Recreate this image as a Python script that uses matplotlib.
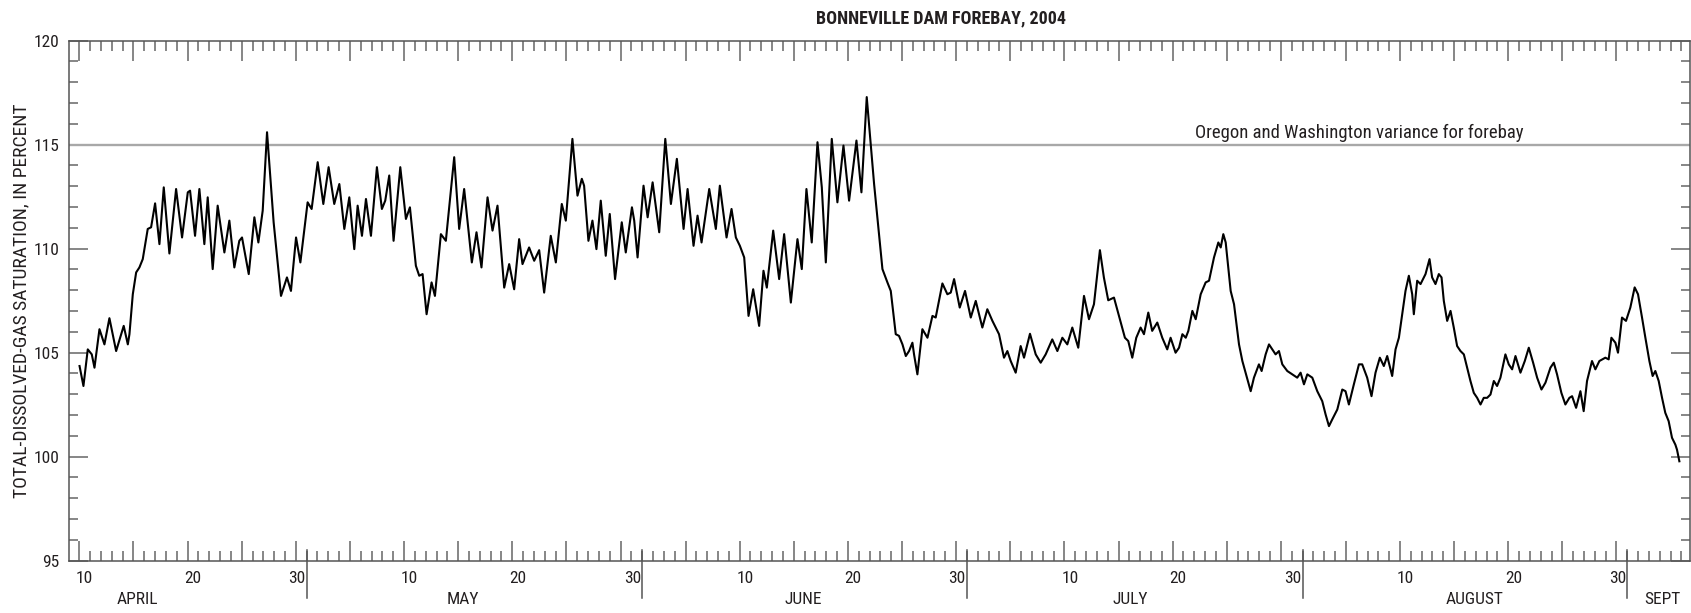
import matplotlib
matplotlib.use("Agg")
import matplotlib.pyplot as plt
import matplotlib.transforms as mtransforms
from matplotlib.lines import Line2D
from matplotlib import font_manager

# ---------------- data (x = days since 1 April 2004, 00:00) ----------------
day = [
    9.02, 9.38, 9.78, 10.15, 10.4, 10.86, 11.32, 11.78, 12.4, 13.1, 13.48, 13.63, 13.94,
    14.25, 14.55, 14.86, 15.32, 15.63, 16.0, 16.4, 16.8, 17.32, 17.94, 18.49, 19.02, 19.23,
    19.69, 20.09, 20.55, 20.86, 21.32, 21.78, 22.4, 22.86, 23.32, 23.78, 24.03, 24.65, 25.17,
    25.54, 25.94, 26.34, 26.95, 27.63, 28.18, 28.55, 29.02, 29.42, 30.09, 30.46, 31.02, 31.54,
    32.03, 32.55, 33.02, 33.48, 33.94,
    34.4, 34.71, 35.11, 35.48, 35.94, 36.49, 36.95, 37.26, 37.63, 38.03, 38.65, 39.17, 39.54,
    40.09, 40.4, 40.71, 41.08, 41.54, 41.85, 42.4, 42.86, 43.63, 44.09, 44.55, 45.26, 45.69,
    46.15, 46.71, 47.17, 47.63, 48.25, 48.71, 49.17, 49.63, 49.94, 50.55, 51.02, 51.48, 51.94,
    52.55, 53.02, 53.57, 53.94, 54.55, 55.02, 55.42, 55.63, 56.03, 56.4, 56.77, 57.17, 57.63,
    58.0, 58.49, 59.11, 59.48,
    60.05, 60.26, 60.57, 61.12, 61.5, 61.96, 62.57, 63.13, 63.65, 64.2, 64.82, 65.19, 65.74,
    66.11, 66.48, 67.19, 67.8, 68.17, 68.79, 69.25, 69.65, 70.02, 70.42, 70.82, 71.25, 71.8,
    72.2, 72.51, 73.1, 73.65, 74.11, 74.73, 75.34, 75.74, 76.17, 76.66, 77.19, 77.59, 77.96,
    78.51, 79.03, 79.59, 80.11, 80.79, 81.25, 81.74, 82.42, 83.19, 83.65, 83.96, 84.42, 84.72,
    85.04, 85.35, 85.65, 85.96, 86.11, 86.42, 86.88, 87.35, 87.81, 88.11, 88.73, 89.19, 89.5,
    89.81, 90.33, 90.82, 91.35, 91.81, 92.42, 92.88, 93.35, 93.96, 94.42, 94.73, 95.04, 95.5,
    95.96, 96.27, 96.82, 97.35, 97.81, 98.27, 98.88, 99.35, 99.81, 100.27, 100.73, 101.28,
    101.81, 102.27, 102.73, 103.28, 103.65, 104.05, 104.58, 105.04, 105.59, 105.9, 106.27,
    106.64, 107.04, 107.35, 107.75, 108.11, 108.58, 109.04, 109.5, 109.81, 110.27,
    110.59, 110.9, 111.21, 111.45, 111.82, 112.13, 112.59, 113.05, 113.36, 113.82, 114.22,
    114.44, 114.68, 114.9, 115.36, 115.67, 116.13, 116.44, 116.74, 117.21, 117.51, 117.97,
    118.22, 118.59, 118.9, 119.21, 119.51, 119.82, 120.13, 120.59, 121.05, 121.51, 121.82,
    122.13, 122.44, 122.9, 123.36, 123.82, 124.13, 124.44, 124.74, 125.21, 125.67, 125.97,
    126.28, 126.74, 127.21, 127.51, 127.97, 128.37, 128.74, 129.14, 129.51, 129.82, 130.28,
    130.59, 130.9, 131.21, 131.51, 131.82, 132.13, 132.28, 132.59, 132.9, 133.36, 133.73,
    133.97, 134.28,
    134.59, 134.84, 135.05, 135.36, 135.67, 135.97, 136.28, 136.59, 136.9, 137.21, 137.51,
    137.82, 138.13, 138.44, 138.74, 139.05, 139.36, 139.67, 139.97, 140.28, 140.74, 141.05,
    141.36, 141.67, 142.13, 142.53, 142.9, 143.3, 143.67, 144.07, 144.44, 144.9, 145.21,
    145.51, 145.91, 146.28, 146.65, 146.9, 147.27, 147.67, 147.97, 148.28, 148.74, 149.05,
    149.42, 149.97, 150.28, 150.53, 150.9, 151.14, 151.51, 151.88, 152.28, 152.68, 152.99,
    153.36, 153.67, 154.04, 154.34, 154.59, 154.9, 155.21, 155.51, 155.82, 156.13, 156.44,
    156.59, 156.81,
]

tdg = [
    104.35, 103.39, 105.15, 104.91, 104.27, 106.12, 105.39, 106.65, 105.07, 106.28, 105.39, 105.88, 107.8,
    108.85, 109.09, 109.49, 110.94, 111.02, 112.17, 110.21, 112.94, 109.76, 112.86, 110.53, 112.7, 112.78,
    110.61, 112.86, 110.21, 112.46, 109.01, 112.06, 109.81, 111.34, 109.09, 110.37, 110.53, 108.77, 111.5,
    110.29, 111.82, 115.59, 111.26, 107.72, 108.61, 107.96, 110.53, 109.33, 112.22, 111.9, 114.15, 112.14,
    113.91, 112.14, 113.1, 110.94, 112.46,
    109.97, 112.06, 110.61, 112.38, 110.61, 113.91, 111.9, 112.3, 113.51, 110.37, 113.91, 111.42, 111.98,
    109.17, 108.69, 108.77, 106.84, 108.37, 107.72, 110.69, 110.37, 114.39, 110.94, 112.86, 109.33, 110.78,
    109.09, 112.46, 110.86, 112.06, 108.12, 109.25, 108.04, 110.45, 109.25, 110.05, 109.41, 109.92, 107.88,
    110.61, 109.33, 112.14, 111.34, 115.27, 112.54, 113.35, 113.02, 110.37, 111.34, 109.97, 112.3, 109.65,
    111.66, 108.53, 111.26, 109.81,
    111.98, 111.34, 109.57, 113.02, 111.5, 113.18, 110.78, 115.27, 112.14, 114.31, 110.94, 112.86, 110.13,
    111.58, 110.29, 112.86, 110.94, 113.02, 110.53, 111.9, 110.53, 110.13, 109.57, 106.76, 108.04, 106.28,
    108.93, 108.12, 110.86, 108.53, 110.69, 107.4, 110.45, 109.01, 112.86, 110.29, 115.11, 112.94, 109.33,
    115.27, 112.22, 114.95, 112.3, 115.19, 112.7, 117.28, 113.1, 109.01, 108.37, 107.96, 105.88, 105.8,
    105.39, 104.83, 105.07, 105.47, 104.91, 103.95, 106.12, 105.71, 106.76, 106.68, 108.32, 107.8, 107.88,
    108.53, 107.16, 107.96, 106.68, 107.48, 106.2, 107.08, 106.52, 105.88, 104.75, 105.07, 104.59, 104.03,
    105.31, 104.75, 105.9, 104.91, 104.51, 104.91, 105.63, 105.07, 105.71, 105.39, 106.2, 105.23,
    107.72, 106.6, 107.32, 109.92, 108.6, 107.51, 107.64, 106.76, 105.71, 105.55, 104.75,
    105.71, 106.2, 105.88, 106.92, 106.04, 106.44, 105.71, 105.15, 105.71, 104.99,
    105.23, 105.88, 105.71, 106.04, 107.0, 106.6, 107.8, 108.37, 108.45, 109.57, 110.29,
    110.05, 110.69, 110.29, 107.96, 107.32, 105.39, 104.59, 104.03, 103.14, 103.79, 104.43,
    104.11, 104.91, 105.39, 105.15, 104.91, 105.07, 104.43, 104.11, 103.95, 103.79, 104.03,
    103.47, 103.95, 103.79, 103.14, 102.66, 102.02, 101.46, 101.78, 102.26, 103.22, 103.14,
    102.5, 103.47, 104.43, 104.43, 103.79, 102.9, 104.03, 104.75, 104.35, 104.83, 103.87,
    105.15, 105.71, 106.84, 107.96, 108.69, 107.8, 106.84, 108.45, 108.29, 108.77, 109.49,
    108.61, 108.29,
    108.77, 108.61, 107.48, 106.52, 107.0, 106.2, 105.31, 105.07, 104.91, 104.27, 103.63,
    103.06, 102.82, 102.5, 102.82, 102.82, 102.98, 103.63, 103.39, 103.79, 104.91, 104.43,
    104.19, 104.83, 104.03, 104.59, 105.23, 104.51, 103.79, 103.22, 103.55, 104.27, 104.51,
    103.95, 103.06, 102.5, 102.82, 102.9, 102.34, 103.14, 102.18, 103.63, 104.59, 104.19,
    104.59, 104.75, 104.67, 105.71, 105.47, 104.99, 106.68, 106.52, 107.16, 108.13, 107.8,
    106.68, 105.71, 104.59, 103.87, 104.11, 103.63, 102.82, 102.1, 101.7, 100.9, 100.57,
    100.33, 99.77,
]

variance_level = 115
variance_text = "Oregon and Washington variance for forebay"
title_text = "BONNEVILLE DAM FOREBAY, 2004"
ylabel_text = "TOTAL-DISSOLVED-GAS SATURATION, IN PERCENT"

# month layout as drawn on the chart (start day index of each month)
month_names = ["APRIL", "MAY", "JUNE", "JULY", "AUGUST", "SEPT"]
month_starts = [0, 30, 61, 91, 122, 152]
month_ends = [30, 61, 91, 122, 152, 160]
month_label_x = [14.4, 44.4, 75.9, 106.1, 137.9, 155.2]
day_labels = ["10", "20", "30"]
y_major = [95, 100, 105, 110, 115, 120]

# ---------------- fonts ----------------
avail = {f.name for f in font_manager.fontManager.ttflist}
FONT = "DejaVu Sans"
for cand in ["Liberation Sans Narrow", "Roboto Condensed", "Open Sans Condensed",
             "Liberation Sans", "Roboto"]:
    if cand in avail:
        FONT = cand
        break
plt.rcParams["font.family"] = [FONT, "DejaVu Sans"]

TXT = "#231f20"
AX = "#555555"

W, H = 1691, 613
fig = plt.figure(figsize=(W / 100, H / 100), dpi=100)
x0_px, x1_px = 68.5, 1690.0
ytop_px, ybot_px = 40.5, 560.5
ax = fig.add_axes([x0_px / W, (H - ybot_px) / H, (x1_px - x0_px) / W, (ybot_px - ytop_px) / H])

px_per_day = 10.825
ax.set_xlim(8, 8 + (x1_px - x0_px) / px_per_day)
ax.set_ylim(95, 120)

ax.axhline(variance_level, color="#a8a8a8", lw=1.7, zorder=2)
ax.plot(day, tdg, color="black", lw=1.5, zorder=3, solid_joinstyle="round")

# ---- x ticks (day boundaries) ----
xmin, xmax = ax.get_xlim()
minor_days = [d for d in range(9, 158)]
major_days = []
for ms, me in zip(month_starts, month_ends):
    for k in (4, 9, 14, 19, 24, 29):
        d = ms + k
        if d < me and xmin < d < xmax and ms != 152:
            major_days.append(d)
ax.set_xticks(major_days)
ax.set_xticks(minor_days, minor=True)
ax.tick_params(axis="x", which="both", direction="in", top=True, bottom=True,
               labelbottom=False, color="#666666", width=1.1)
ax.tick_params(axis="x", which="major", length=14.2)
ax.tick_params(axis="x", which="minor", length=7.4)

# ---- y ticks ----
ax.set_yticks(y_major)
ax.set_yticks(list(range(95, 121)), minor=True)
ax.tick_params(axis="y", which="both", direction="in", left=True, right=True,
               color="#666666", width=1.1)
ax.tick_params(axis="y", which="major", length=13.7, labelsize=12.5, pad=6.5,
               labelcolor=TXT)
ax.tick_params(axis="y", which="minor", length=6.8)

for sp in ax.spines.values():
    sp.set_color(AX)
    sp.set_linewidth(1.1)

# ---- month separators and labels ----
trans = mtransforms.blended_transform_factory(ax.transData, ax.transAxes)
axh = ybot_px - ytop_px
for ms in month_starts[1:]:
    ax.add_line(Line2D([ms, ms], [-37 / axh, 11 / axh], transform=trans,
                       color=AX, lw=1.1, clip_on=False))

y_day = -18.3 / axh
y_mon = -39.5 / axh
for ms, me in zip(month_starts, month_ends):
    for lab in day_labels:
        n = int(lab)
        if n == 30:
            if me - ms < 30 or ms + 29 > xmax:
                continue
            ax.text(me - 0.12, y_day, lab, transform=trans, ha="right", va="center",
                    fontsize=12.5, color=TXT)
        else:
            xd = ms + n - 0.5
            if xd > xmax:
                continue
            ax.text(xd, y_day, lab, transform=trans, ha="center", va="center",
                    fontsize=12.5, color=TXT)
for name, xl in zip(month_names, month_label_x):
    ax.text(xl, y_mon, name, transform=trans, ha="center", va="center",
            fontsize=12.5, color=TXT)

# ---- annotation, title, y label ----
ax.text(112.06, 115.32, variance_text, ha="left", va="baseline",
        fontsize=13.5, color=TXT, zorder=4)
fig.text(941 / W, 1 - 18.3 / H, title_text, ha="center", va="center",
         fontsize=13, fontweight="bold", color=TXT)
fig.text(21.5 / W, 1 - 301 / H, ylabel_text, ha="center", va="center",
         rotation=90, fontsize=14, color=TXT)

fig.savefig("out.png", dpi=100)
